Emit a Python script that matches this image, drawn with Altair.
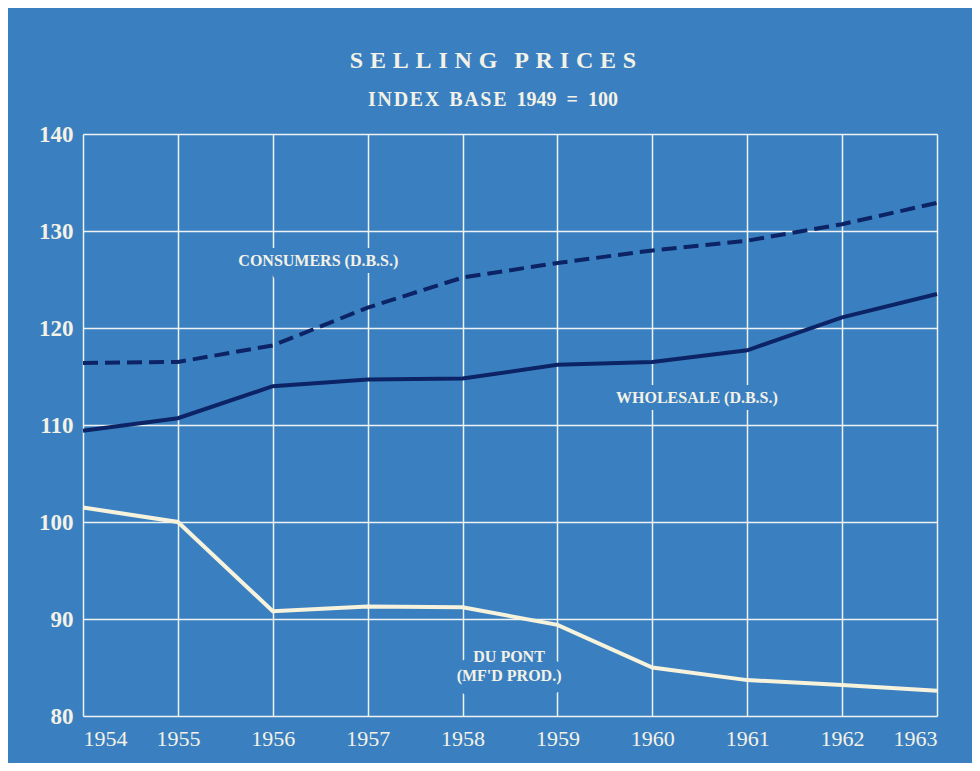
import altair as alt
import pandas as pd

years = [1954, 1955, 1956, 1957, 1958, 1959, 1960, 1961, 1962, 1963]
consumers = [116.4, 116.5, 118.2, 122.1, 125.2, 126.7, 128.0, 129.0, 130.7, 132.9]
wholesale = [109.4, 110.7, 114.0, 114.7, 114.8, 116.2, 116.5, 117.7, 121.1, 123.5]
dupont = [101.5, 100.0, 90.8, 91.3, 91.2, 89.4, 85.0, 83.7, 83.2, 82.6]

label_text = ["CONSUMERS (D.B.S.)", "WHOLESALE (D.B.S.)", "DU PONT\n(MF'D PROD.)"]
label_x = [1956.48, 1960.47, 1958.49]
label_y = [126.9, 112.8, 86.05]

y_ticks = [80, 90, 100, 110, 120, 130, 140]

BG = "#3a80c1"
NAVY = "#0c2366"
CREAM = "#f6f2dc"
GRID = "#eef2f2"
TEXT = "#f4f2e6"
SERIF = "Liberation Serif"

title_txt = "\u2009\u200a".join(list("SELLING")) + "\u2002\u2009" + "\u2009\u200a".join(list("PRICES"))
sub_txt = ("\u200a".join(list("INDEX")) + "\u2002" + "\u200a".join(list("BASE")) + "\u2002"
           + "1949\u2002=\u2002100")

df = pd.DataFrame({
    "year": years * 3,
    "value": consumers + wholesale + dupont,
    "series": ["Consumers"] * 10 + ["Wholesale"] * 10 + ["Du Pont"] * 10,
})
labels = pd.DataFrame({"x": label_x, "y": label_y, "t": label_text})

xs = alt.Scale(domain=[1954, 1963], nice=False, zero=False)
ys = alt.Scale(domain=[80, 140], nice=False, zero=False)

xaxis = alt.Axis(values=years, format="d", title=None, grid=True, gridColor=GRID,
                 gridWidth=1.5, gridOpacity=1, domain=False, ticks=False,
                 labelFont=SERIF, labelFontSize=22, labelColor=TEXT,
                 labelPadding=12, labelFlush=True)
yaxis = alt.Axis(values=y_ticks, title=None, grid=True, gridColor=GRID,
                 gridWidth=1.5, gridOpacity=1, domain=False, ticks=False,
                 labelFont=SERIF, labelFontSize=23, labelFontWeight="bold",
                 labelColor=TEXT, labelPadding=10)

base = alt.Chart(df)

cons = base.transform_filter(alt.datum.series == "Consumers").mark_line(
    color=NAVY, strokeWidth=4, strokeDash=[15, 7]
).encode(x=alt.X("year:Q", scale=xs, axis=xaxis), y=alt.Y("value:Q", scale=ys, axis=yaxis))

whole = base.transform_filter(alt.datum.series == "Wholesale").mark_line(
    color=NAVY, strokeWidth=4
).encode(x=alt.X("year:Q", scale=xs), y=alt.Y("value:Q", scale=ys))

dup = base.transform_filter(alt.datum.series == "Du Pont").mark_line(
    color=CREAM, strokeWidth=4
).encode(x=alt.X("year:Q", scale=xs), y=alt.Y("value:Q", scale=ys))

text_kw = dict(font=SERIF, fontSize=16, fontWeight="bold", align="center",
               baseline="middle", lineBreak="\n", lineHeight=18.6)

halo = alt.Chart(labels).mark_text(
    color=BG, stroke=BG, strokeWidth=14, **text_kw
).encode(x=alt.X("x:Q", scale=xs), y=alt.Y("y:Q", scale=ys), text="t:N")

txt = alt.Chart(labels).mark_text(
    color=TEXT, **text_kw
).encode(x=alt.X("x:Q", scale=xs), y=alt.Y("y:Q", scale=ys), text="t:N")

chart = alt.layer(halo, cons, whole, dup, txt).properties(
    width=854, height=582,
    autosize=alt.AutoSizeParams(type="none"),
    padding={"left": 75, "top": 126, "right": 35, "bottom": 47},
    background=BG,
    title=alt.TitleParams(
        text=title_txt, subtitle=sub_txt, anchor="middle", dx=-17,
        font=SERIF, fontSize=24, fontWeight="bold", color=TEXT,
        subtitleFont=SERIF, subtitleFontSize=20, subtitleFontWeight="bold",
        subtitleColor=TEXT, subtitlePadding=17, offset=13,
    ),
).configure_view(stroke=None)

chart.save("out.html", embed_options={"renderer": "svg", "actions": False})
